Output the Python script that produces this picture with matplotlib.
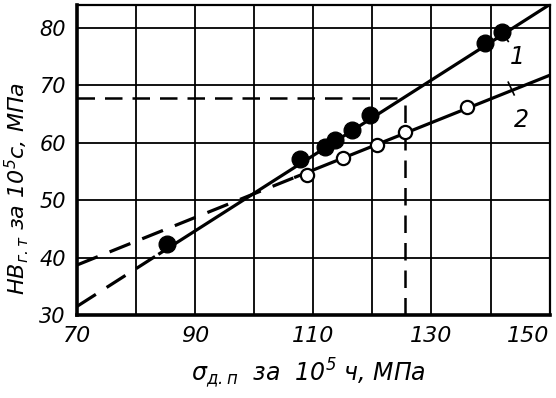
import matplotlib
matplotlib.use('Agg')
import matplotlib.pyplot as plt

# filled circles, curve 1
x1 = [85.2, 107.7, 112.0, 113.7, 116.5, 119.6, 139.0, 141.9]
y1 = [42.3, 57.1, 59.2, 60.4, 62.2, 64.8, 77.3, 79.2]
# open circles, curve 2
x2 = [108.9, 115.0, 120.8, 125.5, 136.0]
y2 = [54.3, 57.3, 59.6, 61.8, 66.2]

# fitted lines: dashed extension then solid part
line1_x = [70, 84, 150]
line1_y = [31.5, 40.7, 84.0]
line2_x = [70, 107, 150]
line2_y = [38.7, 54.0, 71.7]

# reading guide
guide_x = 125.5
guide_y = 67.7

xticks = [70, 90, 110, 130, 150]
yticks = [30, 40, 50, 60, 70, 80]

fam = ['Liberation Sans Narrow', 'DejaVu Sans']
plt.rcParams['font.family'] = fam
plt.rcParams['mathtext.fontset'] = 'custom'
plt.rcParams['mathtext.it'] = 'DejaVu Sans:italic'
plt.rcParams['mathtext.rm'] = 'DejaVu Sans:italic'

fig = plt.figure(figsize=(5.56, 3.98), dpi=100)
ax = fig.add_axes([0.1385, 0.2085, 0.850, 0.7785])

ax.set_xlim(70, 150)
ax.set_ylim(30, 83.9)

for v in range(80, 150, 10):
    ax.axvline(v, color='k', lw=1.3, zorder=1)
for v in range(40, 81, 10):
    ax.axhline(v, color='k', lw=1.3, zorder=1)

dash = (0, (7, 4))
ax.plot(line1_x[:2], line1_y[:2], color='k', lw=2.3, linestyle=dash, zorder=2)
ax.plot(line1_x[1:], line1_y[1:], color='k', lw=2.3, zorder=2)
ax.plot(line2_x[:2], line2_y[:2], color='k', lw=2.3, linestyle=dash, zorder=2)
ax.plot(line2_x[1:], line2_y[1:], color='k', lw=2.3, zorder=2)

ax.plot([70, guide_x], [guide_y, guide_y], color='k', lw=1.8, linestyle=dash, zorder=2)
ax.plot([guide_x, guide_x], [30, guide_y], color='k', lw=1.8, linestyle=dash, zorder=2)

ax.plot(x1, y1, 'o', color='k', ms=12, zorder=3)
ax.plot(x2, y2, 'o', mfc='white', mec='k', mew=1.6, ms=9.5, zorder=3)

# curve labels with leader ticks
ax.plot([141.5, 143.0], [79.8, 77.6], color='k', lw=1.2)
ax.text(144.6, 74.9, '1', fontsize=17, style='italic', ha='center', va='center')
ax.plot([143.0, 144.0], [70.5, 68.3], color='k', lw=1.2)
ax.text(145.2, 64.0, '2', fontsize=17, style='italic', ha='center', va='center')

ax.set_xticks(xticks)
ax.set_yticks(yticks)
ax.set_xticklabels([str(t) for t in xticks], fontsize=16, style='italic')
ax.set_yticklabels([str(t) for t in yticks], fontsize=15, style='italic')
ax.get_xticklabels()[-1].set_ha('right')
ax.tick_params(axis='x', length=0, pad=8)
ax.tick_params(axis='y', length=0, pad=8)

for s in ['left', 'bottom']:
    ax.spines[s].set_linewidth(2.6)
for s in ['top', 'right']:
    ax.spines[s].set_linewidth(1.6)

ax.set_xlabel('σ$_{д.п}$  за  10$^5$ ч, МПа', fontsize=17, style='italic', va='center')
ax.set_ylabel('HB$_{г.т}$ за 10$^5$с, МПа', fontsize=16, style='italic', va='center')
ax.xaxis.set_label_coords(0.49, -0.187)
ax.yaxis.set_label_coords(-0.127, 0.41)

fig.savefig('out.png', dpi=100)
